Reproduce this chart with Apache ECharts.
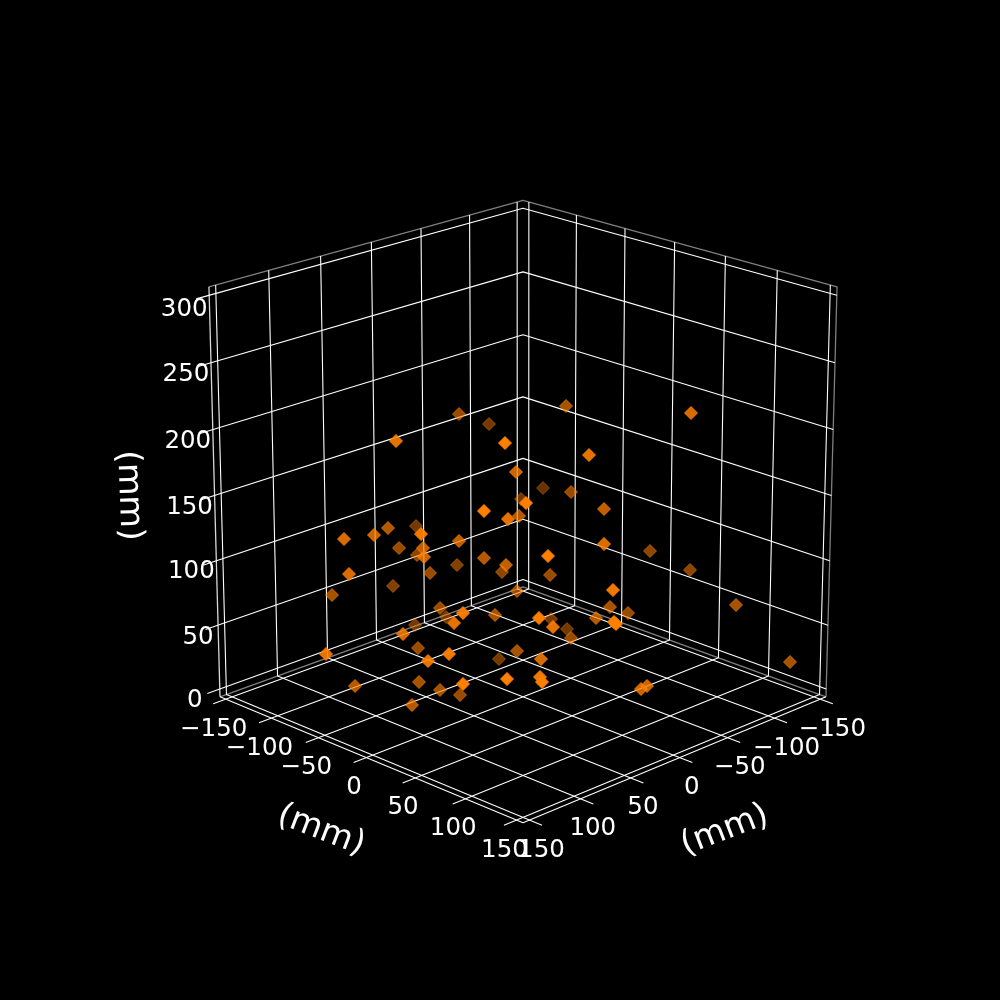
<!DOCTYPE html>
<html>
<head>
<meta charset="utf-8">
<style>html,body{margin:0;padding:0;background:#000}#chart{width:1000px;height:1000px}</style>
<script src="https://cdn.jsdelivr.net/npm/echarts@6/dist/echarts.min.js"></script>
</head>
<body>
<div id="chart"></div>
<script>
// Tick values of the three 3D axes (mm)
const xTicks = [-150, -100, -50, 0, 50, 100, 150];
const yTicks = [-150, -100, -50, 0, 50, 100, 150];
const zTicks = [0, 50, 100, 150, 200, 250, 300];
const axisTitle = '(mm)';

// Markers: projected position and depth shade
const markerU = [459,489,396,505,516,543,521,526,484,508,519,388,416,344,374,421,399,459,423,417,424,484,457,430,506,502,548,550,349,393,332,517,
  326,355,403,415,440,446,463,454,495,418,428,449,517,499,541,539,551,553,507,540,542,463,419,440,460,412,
  566,691,589,571,604,604,650,690,613,736,610,628,596,614,616,567,571,790,641,647];
const markerV = [414,424,441,443,472,488,499,503,511,519,516,528,526,539,535,534,548,541,548,555,557,558,565,573,565,572,556,575,574,586,595,591,
  654,686,634,625,608,617,613,623,615,648,661,654,651,659,659,618,619,627,679,677,682,684,682,690,695,705,
  406,413,455,492,509,544,551,570,590,605,607,613,618,622,624,629,638,662,689,686];
const markerShade = [.55,.4,.85,1,.75,.35,.4,.95,.95,.85,.65,.65,.4,.8,.75,.9,.55,.7,.7,.5,.75,.65,.45,.55,.7,.5,1,.55,.8,.45,.6,.55,
  .85,.65,.8,.4,.55,.4,.9,.85,.6,.55,.85,.9,.6,.4,.8,.95,.4,.85,1,.9,1,1,.6,.6,.55,.65,
  .6,.8,.85,.55,.7,.8,.5,.5,.9,.6,.6,.55,.65,1,1,.4,.55,.6,.75,.75];

// View of the box
const ELEV = 20 * Math.PI / 180, AZIM = 45 * Math.PI / 180, DIST = 10;
const BOX = 0.524, SCALE = 4162, CX = 523, CY = 495.5;
const LO = -156.25, HI = 156.25, ZLO = -6.25, ZHI = 306.25, TICK = 12;

function project(x, y, z) {
  const px = x / HI * BOX, py = y / HI * BOX, pz = (z - 150) / HI * BOX;
  const u = -px * Math.sin(AZIM) + py * Math.cos(AZIM);
  const h = px * Math.cos(AZIM) + py * Math.sin(AZIM);
  const v = pz * Math.cos(ELEV) - h * Math.sin(ELEV);
  const w = h * Math.cos(ELEV) + pz * Math.sin(ELEV);
  const d = DIST - w;
  return [CX + SCALE * u / d, CY - SCALE * v / d];
}

function path(points, color, width) {
  return {
    type: 'line', silent: true, symbol: 'none', animation: false, z: 1,
    data: points.map(p => project(p[0], p[1], p[2])),
    lineStyle: { color, width, opacity: 1 }
  };
}
const GRID = '#ffffff', EDGE = '#7f7f7f', GW = 1.1;
const series = [];

// pane edges
series.push(path([[HI, LO, ZHI], [LO, LO, ZHI], [LO, HI, ZHI], [LO, HI, ZLO]], EDGE, 1.3));
series.push(path([[HI, LO, ZLO], [LO, LO, ZLO], [LO, HI, ZLO]], EDGE, 1.3));
// axis lines
series.push(path([[HI, LO, ZLO], [HI, LO, ZHI]], '#d8d8d8', 1.3));
series.push(path([[HI, LO, ZLO], [HI, HI, ZLO], [LO, HI, ZLO]], GRID, 1.1));

// grid lines with their tick stubs
xTicks.forEach(t => {
  series.push(path([[t, HI + TICK, ZLO], [t, LO, ZLO], [t, LO, ZHI]], GRID, GW));
});
yTicks.forEach(t => {
  series.push(path([[HI + TICK, t, ZLO], [LO, t, ZLO], [LO, t, ZHI]], GRID, GW));
});
zTicks.forEach(t => {
  series.push(path([[HI + TICK, LO, t], [LO, LO, t], [LO, HI, t]], GRID, GW));
});

// markers, far ones first
const order = markerU.map((_, i) => i).sort((a, b) => markerShade[a] - markerShade[b]);
series.push({
  type: 'scatter', symbol: 'diamond', symbolSize: 13, z: 3, animation: false, silent: true,
  data: order.map(i => ({
    value: [markerU[i], markerV[i]],
    itemStyle: { color: '#ff7f00', borderColor: '#ff7f00', borderWidth: 1, opacity: Math.min(1, markerShade[i] + 0.05) }
  }))
});

// tick labels and axis titles
const FONT = 'DejaVu Sans';
const label = (pos, text, size, offset, rotate) => ({
  value: pos,
  itemStyle: { color: 'rgba(0,0,0,0)', opacity: 1 },
  label: { show: true, position: 'inside', formatter: text, color: '#fff', opacity: 1, fontFamily: FONT, fontSize: size,
           align: 'center', verticalAlign: 'middle', offset, rotate }
});
const fmt = t => String(t).replace('-', '\u2212');
const labels = [];
yTicks.forEach(t => labels.push(label(project(HI, t, ZLO), fmt(t), 24.5, [-12, 30], 0)));
xTicks.forEach(t => labels.push(label(project(t, HI, ZLO), fmt(t), 24.5, [12, 30], 0)));
zTicks.forEach(t => labels.push(label(project(HI, LO, t), fmt(t), 24.5,
  [t === 50 ? -20 : -25, t === 300 ? 14 : (t === 100 ? 11 : 12)], 0)));
labels.push(label(project(HI, 0, ZLO), axisTitle, 33.3, [-15.9, 84.3], -21));
labels.push(label(project(0, HI, ZLO), axisTitle, 33.3, [15.9, 84.3], 21));
labels.push(label(project(HI, LO, 150), axisTitle, 33.3, [-3, 86], -88));
series.push({
  type: 'scatter', symbolSize: 1, z: 4, animation: false, silent: true,
  data: labels
});

const chart = echarts.init(document.getElementById('chart'), null, { renderer: 'canvas' });
chart.setOption({
  backgroundColor: '#000',
  animation: false,
  grid: { left: 0, right: 0, top: 0, bottom: 0 },
  xAxis: { type: 'value', min: 0, max: 1000, show: false },
  yAxis: { type: 'value', min: 0, max: 1000, inverse: true, show: false },
  series
});
</script>
</body>
</html>
